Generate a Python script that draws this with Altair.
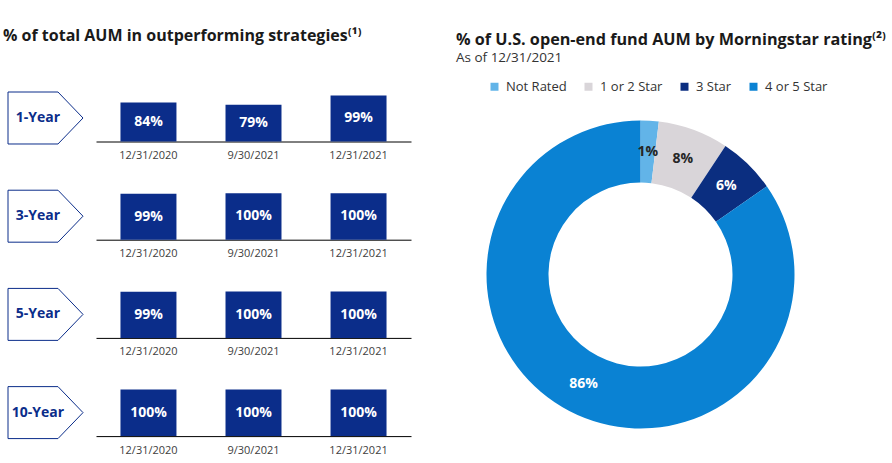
import altair as alt
import pandas as pd

# ---------------- data ----------------
periods = ["1-Year", "3-Year", "5-Year", "10-Year"]
dates = ["12/31/2020", "9/30/2021", "12/31/2021"]
pct_1y = [84, 79, 99]
pct_3y = [99, 100, 100]
pct_5y = [99, 100, 100]
pct_10y = [100, 100, 100]
row_values = [pct_1y, pct_3y, pct_5y, pct_10y]

ratings = ["Not Rated", "1 or 2 Star", "3 Star", "4 or 5 Star"]
rating_share = [1.9, 7.4, 6.0, 84.7]          # wedge sizes as drawn
rating_labels = ["1%", "8%", "6%", "86%"]      # labels as printed
rating_colors = ["#62B4E8", "#D9D5D9", "#0B2E80", "#0A82D3"]
label_colors = ["#262626", "#262626", "#FFFFFF", "#FFFFFF"]

left_title = "% of total AUM in outperforming strategies⁽¹⁾"
right_title = "% of U.S. open-end fund AUM by Morningstar rating⁽²⁾"
right_subtitle = "As of 12/31/2021"

# ---------------- style ----------------
NAVY = "#0B2D8A"
FONT = "Open Sans"
CHEVRON = "M-1,-0.693 L0.333,-0.693 L1,0 L0.333,0.693 L-1,0.693 Z"


def row_chart(period, values):
    df = pd.DataFrame({"date": dates, "pct": values,
                       "label": [f"{v}%" for v in values]})
    base = alt.Chart(df).encode(
        x=alt.X("date:N", sort=dates,
                scale=alt.Scale(paddingInner=0.467, paddingOuter=0.233),
                axis=alt.Axis(title=None, labelAngle=0, ticks=False,
                              domainColor="#000000", domainWidth=1,
                              labelPadding=8, labelFontSize=11,
                              labelColor="#404040", labelFont=FONT))
    )
    bars = base.mark_bar(color=NAVY).encode(
        y=alt.Y("pct:Q", scale=alt.Scale(domain=[0, 100]), axis=None))
    texts = base.transform_calculate(mid="datum.pct / 2").mark_text(
        color="white", fontWeight="bold", fontSize=14, font=FONT,
        baseline="middle").encode(
        y=alt.Y("mid:Q", axis=None), text="label:N")
    tagdf = pd.DataFrame({"period": [period]})
    tag = alt.Chart(tagdf).mark_point(
        shape=CHEVRON, size=75 * 75, filled=True, fill="white",
        stroke=NAVY, strokeWidth=1, opacity=1).encode(
        x=alt.value(-50.5), y=alt.value(23))
    tag_text = alt.Chart(tagdf).mark_text(
        fontWeight="bold", fontSize=14, color=NAVY, font=FONT,
        baseline="middle").encode(
        x=alt.value(-58), y=alt.value(23), text="period:N")
    return alt.layer(tag, tag_text, bars, texts).properties(width=315, height=46.5)


rows = [row_chart(p, v) for p, v in zip(periods, row_values)]
left = alt.vconcat(
    *rows, spacing=51.2, bounds="flush",
    title=alt.TitleParams(text=left_title, anchor="start", font=FONT,
                          fontSize=16, fontWeight="bold", color="#1A1A1A",
                          offset=46, dx=-3))

donut_df = pd.DataFrame({"rating": ratings, "share": rating_share,
                         "label": rating_labels, "order": [0, 1, 2, 3],
                         "tc": label_colors})
dbase = alt.Chart(donut_df).encode(
    theta=alt.Theta("share:Q", stack=True),
    order=alt.Order("order:Q"))
arcs = dbase.mark_arc(innerRadius=92, outerRadius=154).encode(
    color=alt.Color("rating:N",
                    scale=alt.Scale(domain=ratings, range=rating_colors),
                    legend=alt.Legend(title=None, orient="none",
                                      legendX=392, legendY=-15,
                                      direction="horizontal",
                                      symbolType="square", symbolSize=64,
                                      symbolStrokeWidth=0,
                                      labelFont=FONT, labelFontSize=13,
                                      labelColor="#333333", labelOffset=5,
                                      columnPadding=15)))
dtext = dbase.mark_text(radius=123, fontSize=14, fontWeight="bold",
                        font=FONT, baseline="middle").encode(
    text="label:N", color=alt.Color("tc:N", scale=None, legend=None))
right = alt.layer(arcs, dtext).properties(
    width=310, height=359,
    title=alt.TitleParams(text=right_title, subtitle=right_subtitle,
                          anchor="start", font=FONT, fontSize=16.2,
                          fontWeight="bold", color="#1A1A1A",
                          subtitleFont=FONT, subtitleFontSize=13.5,
                          subtitleColor="#333333", subtitlePadding=3,
                          offset=30.5, dx=-29.5))

chart = alt.hconcat(left, right, spacing=44.5).configure_view(
    stroke=None).properties(padding={"left": 3, "top": 28, "right": 0, "bottom": 0})

chart.save("out.html", embed_options={"renderer": "svg", "actions": False})
